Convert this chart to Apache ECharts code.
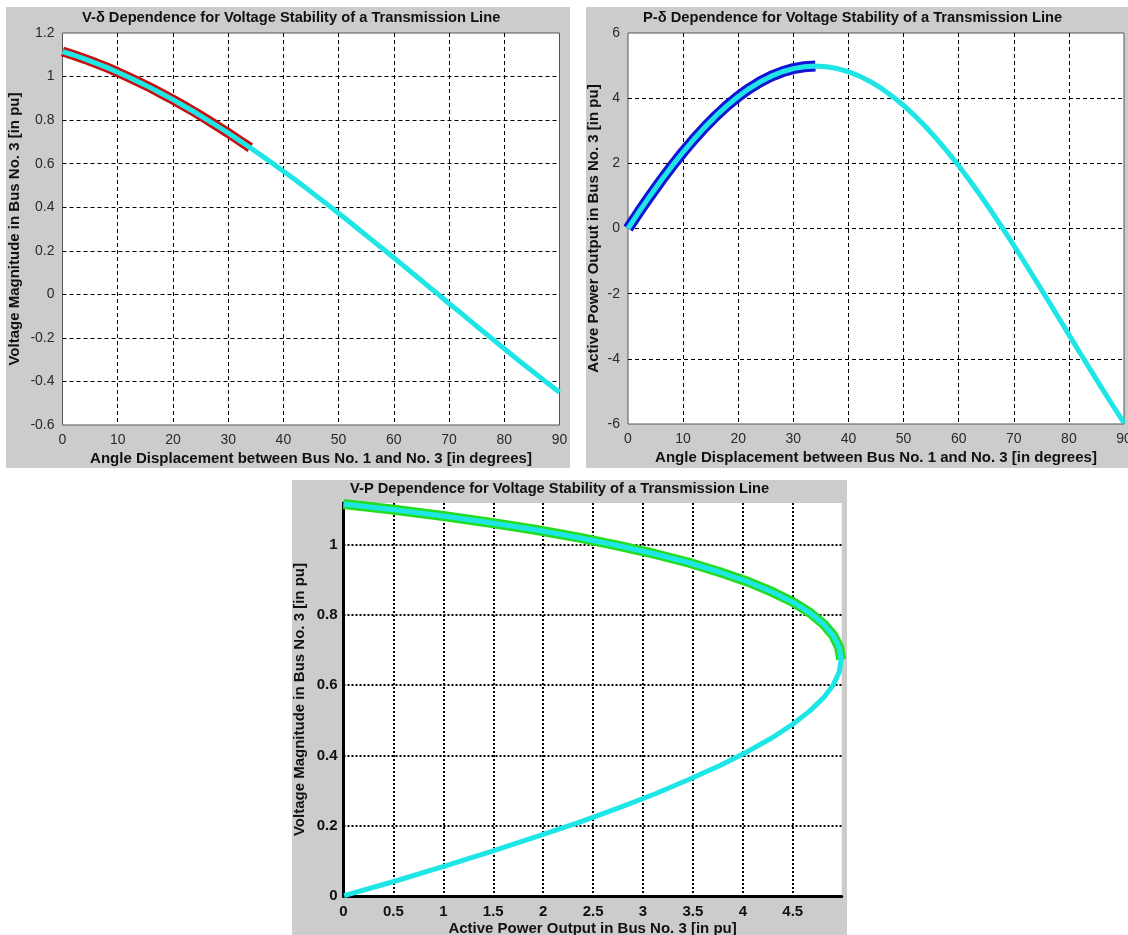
<!DOCTYPE html>
<html>
<head>
<meta charset="utf-8">
<title>Voltage Stability of a Transmission Line</title>
<script src="https://cdn.jsdelivr.net/npm/echarts@6.0.0/dist/echarts.min.js"></script>
<style>
  html, body { margin: 0; padding: 0; background: #fff; }
  body { width: 1128px; height: 935px; position: relative; overflow: hidden; }
  .panel { position: absolute; background: #cccccc; }
  #vd { left: 6px; top: 7px; width: 564px; height: 461px; }
  #pd { left: 586px; top: 7px; width: 542px; height: 461px; }
  #vp { left: 292px; top: 480px; width: 555px; height: 455px; }
</style>
</head>
<body>
<div id="vd" class="panel"></div>
<div id="pd" class="panel"></div>
<div id="vp" class="panel"></div>
<script>
// angle displacement between bus 1 and bus 3 [deg]
const angleDeg = [0, 2, 4, 6, 8, 10, 12, 14, 16, 18, 20, 22, 24, 26, 28, 30, 32, 34, 36, 38,
  40, 42, 44, 46, 48, 50, 52, 54, 56, 58, 60, 62, 64, 66, 68, 70, 72, 74, 76, 78,
  80, 82, 84, 86, 88, 90];
// voltage magnitude at bus 3 [pu]
const voltagePu = [1.115, 1.099, 1.081, 1.062, 1.042, 1.020, 0.997, 0.973, 0.948, 0.921,
  0.894, 0.865, 0.836, 0.805, 0.773, 0.741, 0.707, 0.673, 0.638, 0.602,
  0.565, 0.528, 0.490, 0.451, 0.412, 0.372, 0.332, 0.291, 0.250, 0.209,
  0.168, 0.126, 0.084, 0.042, 0.001, -0.042, -0.083, -0.125, -0.167, -0.208,
  -0.250, -0.291, -0.331, -0.371, -0.411, -0.450];
// active power output at bus 3 [pu]
const powerPu = [0, 0.508, 0.999, 1.471, 1.921, 2.347, 2.747, 3.119, 3.462, 3.773,
  4.051, 4.294, 4.503, 4.675, 4.810, 4.906, 4.965, 4.984, 4.966, 4.908,
  4.811, 4.677, 4.506, 4.298, 4.054, 3.776, 3.465, 3.123, 2.751, 2.351,
  1.926, 1.475, 1.004, 0.513, 0.006, -0.517, -1.051, -1.595, -2.146, -2.701,
  -3.256, -3.812, -4.362, -4.905, -5.440, -5.963];
// stable operating region ends at the maximum power angle
const stableLimitDeg = 34;

const FONT = '"Liberation Sans", Arial, Helvetica, sans-serif';
const CYAN = '#1fe6e6';

const vdAll = angleDeg.map((d, i) => [d, voltagePu[i]]);
const vdStable = vdAll.filter((p) => p[0] <= stableLimitDeg);
const pdAll = angleDeg.map((d, i) => [d, powerPu[i]]);
const pdStable = pdAll.filter((p) => p[0] <= stableLimitDeg);
const vpAll = angleDeg.map((d, i) => [powerPu[i], voltagePu[i]]).filter((p, i) => voltagePu[i] >= 0);
const vpStable = vpAll.filter((p, i) => angleDeg[i] <= stableLimitDeg);

function lineSeries(data, color, width, z) {
  return { type: 'line', data, symbol: 'none', silent: true, clip: false, z,
    lineStyle: { color, width, cap: 'butt' } };
}

function deltaOption(cfg) {
  const nameStyle = { fontFamily: FONT, fontSize: 15, fontWeight: 'bold', color: '#111' };
  const labelStyle = { fontFamily: FONT, fontSize: 14, color: '#2a2a2a' };
  const grid = { type: [4, 3], color: '#000', width: 1 };
  return {
    animation: false,
    backgroundColor: '#cccccc',
    title: { text: cfg.title, left: cfg.titleLeft, top: 3, padding: 0,
      textStyle: { fontFamily: FONT, fontSize: 14.7, fontWeight: 'bold', color: '#111' } },
    grid: Object.assign({ show: true, backgroundColor: '#fff', borderColor: '#555', borderWidth: 1,
      containLabel: false, outerBoundsMode: 'none' }, cfg.grid),
    xAxis: {
      type: 'value', min: 0, max: 90, interval: 10,
      name: 'Angle Displacement between Bus No. 1 and No. 3 [in degrees]',
      nameLocation: 'middle', nameGap: 26, nameMoveOverlap: false, nameTextStyle: nameStyle,
      axisLine: { show: false }, axisTick: { show: false },
      axisLabel: Object.assign({ margin: 8 }, labelStyle),
      splitLine: { show: true, showMinLine: false, showMaxLine: false, lineStyle: grid }
    },
    yAxis: {
      type: 'value', min: cfg.yMin, max: cfg.yMax, interval: cfg.yStep,
      name: cfg.yName, nameLocation: 'middle', nameGap: cfg.yNameGap, nameMoveOverlap: false,
      nameTextStyle: nameStyle,
      axisLine: { show: false }, axisTick: { show: false },
      axisLabel: Object.assign({ margin: 8 }, labelStyle),
      splitLine: { show: true, showMinLine: false, showMaxLine: false, lineStyle: grid }
    },
    series: [
      lineSeries(cfg.stable, cfg.stableColor, cfg.stableWidth, 2),
      lineSeries(cfg.all, CYAN, 5, 3)
    ]
  };
}

const vdChart = echarts.init(document.getElementById('vd'));
vdChart.setOption(deltaOption({
  title: 'V-\u03b4 Dependence for Voltage Stability of a Transmission Line',
  titleLeft: 76,
  grid: { left: 56.5, right: 10.5, top: 26, bottom: 43 },
  yMin: -0.6, yMax: 1.2, yStep: 0.2,
  yName: 'Voltage Magnitude in Bus No. 3 [in pu]', yNameGap: 40,
  stable: vdStable, stableColor: '#c81010', stableWidth: 10, all: vdAll
}));

const pdChart = echarts.init(document.getElementById('pd'));
pdChart.setOption(deltaOption({
  title: 'P-\u03b4 Dependence for Voltage Stability of a Transmission Line',
  titleLeft: 57,
  grid: { left: 42, right: 4, top: 26, bottom: 44 },
  yMin: -6, yMax: 6, yStep: 2,
  yName: 'Active Power Output in Bus No. 3 [in pu]', yNameGap: 27,
  stable: pdStable, stableColor: '#1414d4', stableWidth: 11, all: pdAll
}));

const boldName = { fontFamily: FONT, fontSize: 15, fontWeight: 'bold', color: '#111' };
const boldLabel = { fontFamily: FONT, fontSize: 15, fontWeight: 'bold', color: '#111' };
const dotted = { type: [2, 2], color: '#000', width: 2 };

const vpChart = echarts.init(document.getElementById('vp'));
vpChart.setOption({
  animation: false,
  backgroundColor: '#cccccc',
  title: { text: 'V-P Dependence for Voltage Stability of a Transmission Line', left: 58, top: 1, padding: 0,
    textStyle: { fontFamily: FONT, fontSize: 14.7, fontWeight: 'bold', color: '#111' } },
  grid: { left: 51.5, right: 5.3, top: 23, bottom: 39, show: true, backgroundColor: '#fff', borderWidth: 0,
    containLabel: false, outerBoundsMode: 'none' },
  xAxis: {
    type: 'value', min: 0, max: 4.99, interval: 0.5,
    name: 'Active Power Output in Bus No. 3 [in pu]', nameLocation: 'middle', nameGap: 25,
    nameMoveOverlap: false, nameTextStyle: boldName,
    axisLine: { show: true, onZero: false, lineStyle: { color: '#000', width: 3 } }, axisTick: { show: false },
    axisLabel: Object.assign({ margin: 8, showMaxLabel: false }, boldLabel),
    splitLine: { show: true, showMinLine: false, showMaxLine: false, lineStyle: dotted }
  },
  yAxis: {
    type: 'value', min: 0, max: 1.118, interval: 0.2,
    name: 'Voltage Magnitude in Bus No. 3 [in pu]', nameLocation: 'middle', nameGap: 36,
    nameMoveOverlap: false, nameTextStyle: boldName,
    axisLine: { show: true, onZero: false, lineStyle: { color: '#000', width: 3 } }, axisTick: { show: false },
    axisLabel: Object.assign({ margin: 6, showMaxLabel: false }, boldLabel),
    splitLine: { show: true, showMinLine: false, showMaxLine: false, lineStyle: dotted }
  },
  series: [
    lineSeries(vpStable, '#22dd22', 10, 2),
    lineSeries(vpAll, CYAN, 5, 3)
  ]
});
</script>
</body>
</html>
